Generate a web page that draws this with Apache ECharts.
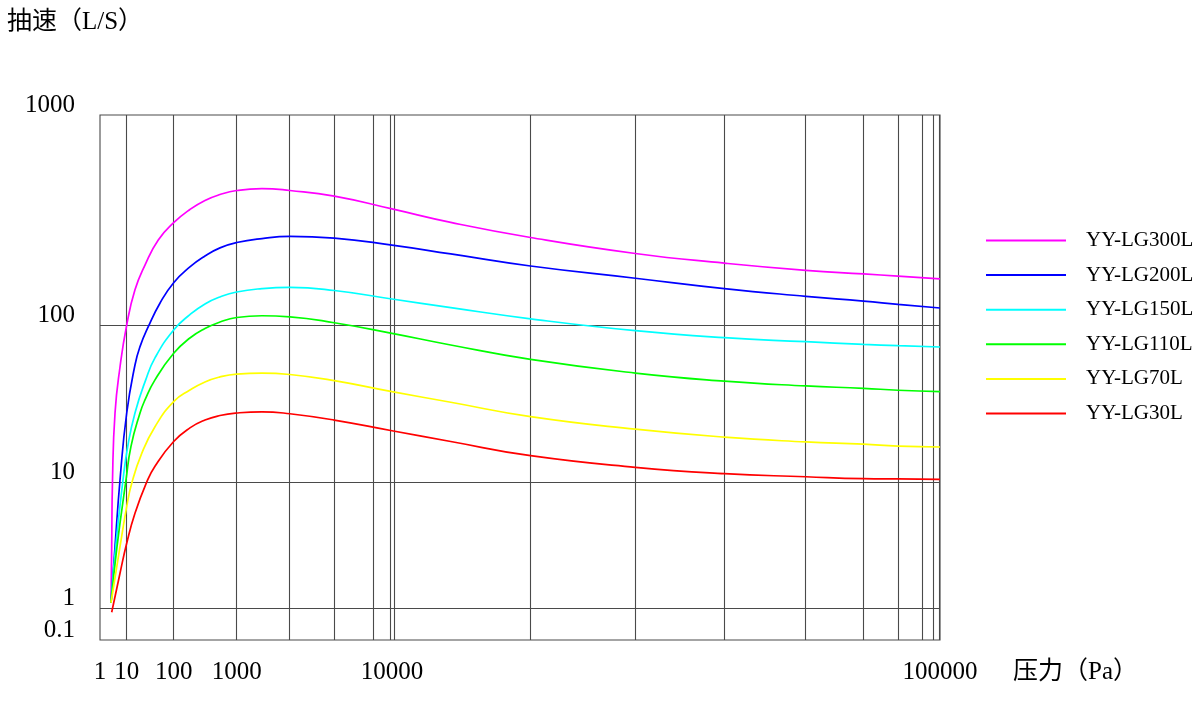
<!DOCTYPE html>
<html>
<head>
<meta charset="utf-8">
<script src="https://cdn.jsdelivr.net/npm/echarts@6/dist/echarts.min.js"></script>
<style>html,body{margin:0;padding:0;background:#fff}#c{width:1200px;height:704px}</style>
</head>
<body>
<div id="c"></div>
<script>
// ---------------- data ----------------
const seriesNames = ['YY-LG300L', 'YY-LG200L', 'YY-LG150L', 'YY-LG110L', 'YY-LG70L', 'YY-LG30L'];

const pressure300 = [2.58, 2.74, 2.94, 3.65, 5.61, 10, 15, 24.5, 47, 100, 181, 314, 543, 1000, 1455, 2200, 4250, 10000, 12800, 17900, 27800, 40400, 56900, 72500, 83800, 100000];
const speed300    = [1.1, 3.05, 10.3, 27.5, 54, 100, 147, 193, 254, 307, 355, 392, 418, 437, 446, 437, 411, 357, 308, 261, 219, 197, 182, 175, 171, 166];

const pressure200 = [2.58, 3.65, 5.61, 10, 15, 19.2, 28.8, 51, 100, 181, 314, 543, 1000, 1455, 2200, 4250, 10000, 12800, 17900, 27800, 40400, 56900, 72500, 83800, 100000];
const speed200    = [1.1, 3.07, 10.3, 27.5, 55.6, 72.8, 97.5, 127, 159, 189, 213, 233, 247, 258, 264, 259, 240, 218, 191, 167, 149, 137, 130, 125.5, 120.5];

const pressure150 = [2.58, 3.87, 7.26, 10.5, 15, 25.4, 40, 100, 181, 314, 543, 1000, 1455, 2200, 4250, 10000, 12800, 17900, 27800, 40400, 56900, 72500, 83800, 100000];
const speed150    = [1.1, 3.07, 10.3, 16.8, 27.5, 44.7, 61.7, 92.9, 112, 126, 136, 143.6, 149, 151, 146, 133, 121, 107, 92, 83, 78.3, 75.3, 73.8, 72.4];

const pressure110 = [2.58, 4.33, 9.42, 12.3, 19.2, 24.5, 40, 100, 181, 314, 543, 1000, 1455, 2200, 4250, 10000, 12800, 17900, 27800, 40400, 56900, 72500, 83800, 100000];
const speed110    = [1.1, 3.07, 10.3, 16.8, 27.5, 33.3, 44.7, 66, 82.6, 95.0, 103.3, 108.6, 110.7, 109.4, 102.5, 88.5, 74.6, 60.4, 49.4, 43.9, 40.9, 39.5, 38.4, 37.6];

const pressure70  = [2.58, 5.61, 10, 12.8, 20.9, 40, 100, 181, 314, 543, 1000, 1455, 2200, 4250, 10000, 12800, 17900, 27800, 40400, 56900, 72500, 83800, 100000];
const speed70     = [1.1, 3.07, 6.37, 9.77, 15.2, 22.5, 32.5, 38.5, 43.4, 46.7, 48.7, 49.4, 48.4, 44.2, 37.6, 32.2, 26.1, 21.7, 19.3, 18.0, 17.4, 16.9, 16.7];

const pressure30  = [2.74, 5.61, 10, 15, 26.6, 40, 100, 181, 314, 543, 1000, 1455, 2200, 4250, 10000, 12800, 17900, 27800, 40400, 56900, 72500, 83800, 100000];
const speed30     = [0.734, 1.886, 3.26, 5.64, 9.95, 12.6, 18.1, 22.1, 24.8, 26.5, 27.5, 28.0, 27.2, 24.8, 21.2, 18.1, 14.7, 12.4, 11.3, 10.8, 10.5, 10.45, 10.4];

// tick labels and grid lines (in axis units: Pa and L/S)
const xLabelValues = [1, 10, 100, 1000, 10000, 100000];
const xLabelTexts  = ['1', '10', '100', '1000', '10000', '100000'];
const yLabelValues = [0.1, 1, 10, 100, 1000];
const yLabelTexts  = ['0.1', '1', '10', '100', '1000'];
const xGridPressures = [10, 100, 1000, 2180, 4230, 7620, 9700, 10080, 17880, 27800, 40420, 56870, 72450, 83800, 92730, 97230, 99580];
const yGridSpeeds = [1, 10, 100];

const yAxisTitle = '抽速（L/S）';
const xAxisTitle = '压力（Pa）';

// ---------------- non-uniform (hand-drawn) axis scales ----------------
// share of the axis length at which each labelled decade sits
const xScaleShare = [0, 0.0318, 0.0877, 0.1627, 0.3476, 1];
const yScaleShare = [0, 0.061, 0.301, 0.6, 1];

function makeScale(anchors, shares) {
  const la = anchors.map(v => Math.log10(v));
  return function (v) {
    const lv = Math.log10(v);
    let i = 0;
    while (i < la.length - 2 && lv > la[i + 1]) i++;
    const t = (lv - la[i]) / (la[i + 1] - la[i]);
    const r = shares[i] + t * (shares[i + 1] - shares[i]);
    return Math.max(0, Math.min(1, r));
  };
}
const fx = makeScale(xLabelValues, xScaleShare);
const fy = makeScale(yLabelValues, yScaleShare);

function labelFor(values, texts, f) {
  return function (val) {
    let best = 0, bd = Infinity;
    values.forEach((v, i) => { const d = Math.abs(f(v) - val); if (d < bd) { bd = d; best = i; } });
    return texts[best];
  };
}

const colors = ['#FF00FF', '#0000FF', '#00FFFF', '#00FF00', '#FFFF00', '#FF0000'];
const pressures = [pressure300, pressure200, pressure150, pressure110, pressure70, pressure30];
const speeds = [speed300, speed200, speed150, speed110, speed70, speed30];

const latin = "'Liberation Serif', 'Noto Sans CJK SC', serif";
const gridLine = { color: '#4a4a4a', width: 1.1 };

const chart = echarts.init(document.getElementById('c'), null, { renderer: 'canvas' });
chart.setOption({
  animation: false,
  backgroundColor: '#ffffff',
  title: [{
    text: yAxisTitle,
    left: 7, top: 10, padding: 0,
    textStyle: { fontFamily: latin, fontSize: 25, fontWeight: 'normal', color: '#000' }
  }, {
    text: xAxisTitle,
    left: 1013, top: 660, padding: 0,
    textStyle: { fontFamily: latin, fontSize: 25, fontWeight: 'normal', color: '#000' }
  }],
  legend: {
    orient: 'vertical',
    left: 986, top: 230, padding: 0,
    itemWidth: 80, itemHeight: 2, itemGap: 13.6,
    icon: 'rect',
    data: seriesNames,
    textStyle: { fontFamily: latin, fontSize: 21, color: '#000', padding: [0, 0, 0, 15] }
  },
  grid: {
    left: 100, right: 260, top: 115, bottom: 64,
    show: true, borderColor: '#4a4a4a', borderWidth: 1.1
  },
  xAxis: {
    type: 'value', min: 0, max: 1,
    axisLine: { show: false },
    axisTick: { show: false, customValues: xGridPressures.map(fx) },
    splitLine: { show: true, lineStyle: gridLine },
    axisLabel: {
      customValues: xLabelValues.map(fx),
      formatter: labelFor(xLabelValues, xLabelTexts, fx),
      margin: 20, fontFamily: latin, fontSize: 25, color: '#000', hideOverlap: false
    }
  },
  yAxis: {
    type: 'value', min: 0, max: 1,
    axisLine: { show: false },
    axisTick: { show: false, customValues: yGridSpeeds.map(fy) },
    splitLine: { show: true, lineStyle: gridLine },
    axisLabel: {
      customValues: yLabelValues.map(fy),
      formatter: labelFor(yLabelValues, yLabelTexts, fy),
      margin: 25, fontFamily: latin, fontSize: 25, color: '#000',
      verticalAlign: 'bottom', lineHeight: 20, hideOverlap: false
    }
  },
  series: seriesNames.map((name, k) => ({
    name: name,
    type: 'line',
    smooth: 0.5,
    symbol: 'none',
    color: colors[k],
    lineStyle: { color: colors[k], width: 1.7 },
    data: pressures[k].map((p, i) => [fx(p), fy(speeds[k][i])])
  }))
});
</script>
</body>
</html>
